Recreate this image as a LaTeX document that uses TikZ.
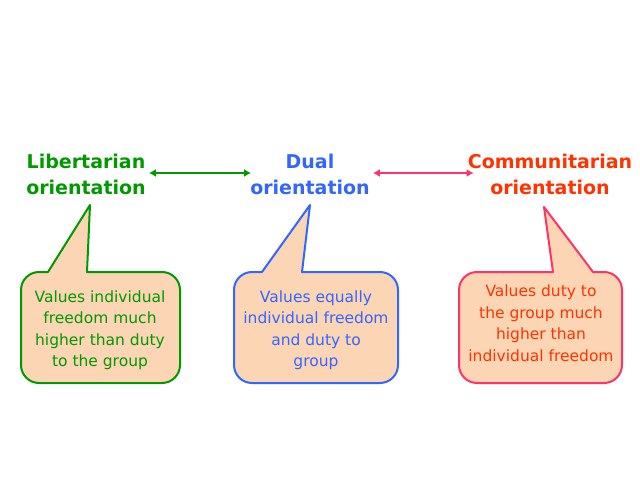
\documentclass[tikz,border=0pt]{standalone}
\usepackage{fontspec}
\setmainfont{DejaVu Sans}
\usetikzlibrary{arrows.meta}
\definecolor{cgreen}{RGB}{0,153,0}
\definecolor{cblue}{RGB}{51,102,255}
\definecolor{cred}{RGB}{255,51,0}
\definecolor{cpink}{RGB}{255,51,102}
\definecolor{cpeach}{RGB}{252,213,181}
\tikzset{
  title/.style={font=\fontsize{19}{26}\selectfont\bfseries, align=center, inner sep=3pt},
  body/.style={font=\fontsize{15.5}{21.5}\selectfont, align=center},
  bubble/.style={line width=2pt, fill=cpeach, line join=round},
  link/.style={line width=2pt, {Latex[length=7pt,width=8pt]}-{Latex[length=7pt,width=8pt]}}
}
\begin{document}
\begin{tikzpicture}[x=1pt,y=1pt]
\useasboundingbox[fill=white] (0,0) rectangle (640,480);
% titles
\node[title, text=cgreen] (lib) at (86,306) {Libertarian\\orientation};
\node[title, text=cblue] (dual) at (310,306) {Dual\\orientation};
\node[title, text=cred] (comm) at (550,306) {Communitarian\\orientation};
% arrows
\draw[link, cgreen, shorten >=-4pt] (lib.east |- 0,307) -- (dual.west |- 0,307);
\draw[link, cpink, shorten >=-9pt] (dual.east |- 0,307) -- (comm.west |- 0,307);
% bubbles
\draw[bubble, draw=cgreen] (48,208) -- (90,275) -- (87,208) -- (162,208)
  arc[start angle=90,end angle=0,radius=18] -- (180,115)
  arc[start angle=0,end angle=-90,radius=18] -- (39,97)
  arc[start angle=270,end angle=180,radius=18] -- (21,190)
  arc[start angle=180,end angle=90,radius=18] -- cycle;
\draw[bubble, draw=cblue] (262,208) -- (310,275) -- (302,208) -- (380,208)
  arc[start angle=90,end angle=0,radius=18] -- (398,115)
  arc[start angle=0,end angle=-90,radius=18] -- (252,97)
  arc[start angle=270,end angle=180,radius=18] -- (234,190)
  arc[start angle=180,end angle=90,radius=18] -- cycle;
\draw[bubble, draw=cpink] (553,208) -- (544,273) -- (593,208) -- (604,208)
  arc[start angle=90,end angle=0,radius=18] -- (622,115)
  arc[start angle=0,end angle=-90,radius=18] -- (477,97)
  arc[start angle=270,end angle=180,radius=18] -- (459,190)
  arc[start angle=180,end angle=90,radius=18] -- cycle;
% texts
\node[body, text=cgreen] (t1) at (100,150) {Values individual\\freedom much\\higher than duty\\to the group};
\node[body, text=cblue] (t2) at (316,150) {Values equally\\individual freedom\\and duty to\\group};
\node[body, text=cred] (t3) at (541,157) {Values duty to\\the group much\\higher than\\individual freedom};
\end{tikzpicture}
\end{document}
